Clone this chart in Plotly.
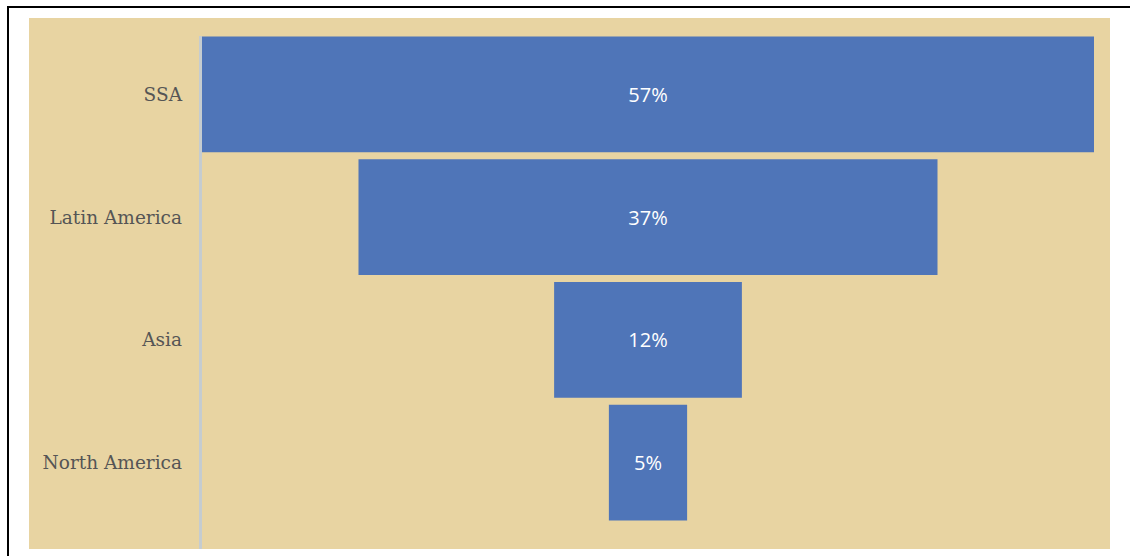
import plotly.graph_objects as go

# Share by region (%)
regions = ["SSA", "Latin America", "Asia", "North America"]
shares = [57, 37, 12, 5]

W, H = 1130, 556
L, R, T, B = 201, 35, 33, 32
PW, PH = W - L - R, H - T - B


def px_x(px):
    return (px - L) / PW


def px_y(py):
    return (H - B - py) / PH


fig = go.Figure(
    go.Funnel(
        y=regions,
        x=shares,
        texttemplate="%{x}%",
        textposition="inside",
        insidetextanchor="middle",
        textfont=dict(family="Open Sans, sans-serif", size=20, color="#ffffff"),
        marker=dict(color="#4f75b8", line=dict(width=0)),
        connector=dict(visible=False),
        hoverinfo="y+x",
    )
)

half = max(shares) / 2 * PW / 892

shapes = [
    # papyrus-coloured chart area
    dict(type="rect", xref="paper", yref="paper",
         x0=px_x(29), x1=px_x(1110), y0=px_y(549), y1=px_y(18),
         fillcolor="#e8d4a2", line=dict(width=0), layer="below"),
    # outer frame
    dict(type="rect", xref="paper", yref="paper",
         x0=px_x(8), x1=px_x(1140), y0=px_y(566), y1=px_y(7),
         fillcolor="rgba(0,0,0,0)", line=dict(color="#000000", width=2), layer="above"),
    # category axis line
    dict(type="line", xref="paper", yref="paper",
         x0=px_x(200.5), x1=px_x(200.5), y0=px_y(549), y1=px_y(36),
         line=dict(color="#c5ccd0", width=3), layer="below"),
]

fig.update_layout(
    width=W, height=H,
    margin=dict(l=L, r=R, t=T, b=B, pad=0),
    paper_bgcolor="#ffffff",
    plot_bgcolor="rgba(0,0,0,0)",
    showlegend=False,
    funnelgap=0.055,
    shapes=shapes,
    xaxis=dict(range=[-half, half], visible=False, showgrid=False, zeroline=False),
    yaxis=dict(
        showgrid=False, zeroline=False, showline=False, ticks="",
        ticklabelstandoff=18,
        tickfont=dict(family="DejaVu Serif, Liberation Serif, serif", size=18.5, color="#555555"),
    ),
)

fig.write_html("out.html")
